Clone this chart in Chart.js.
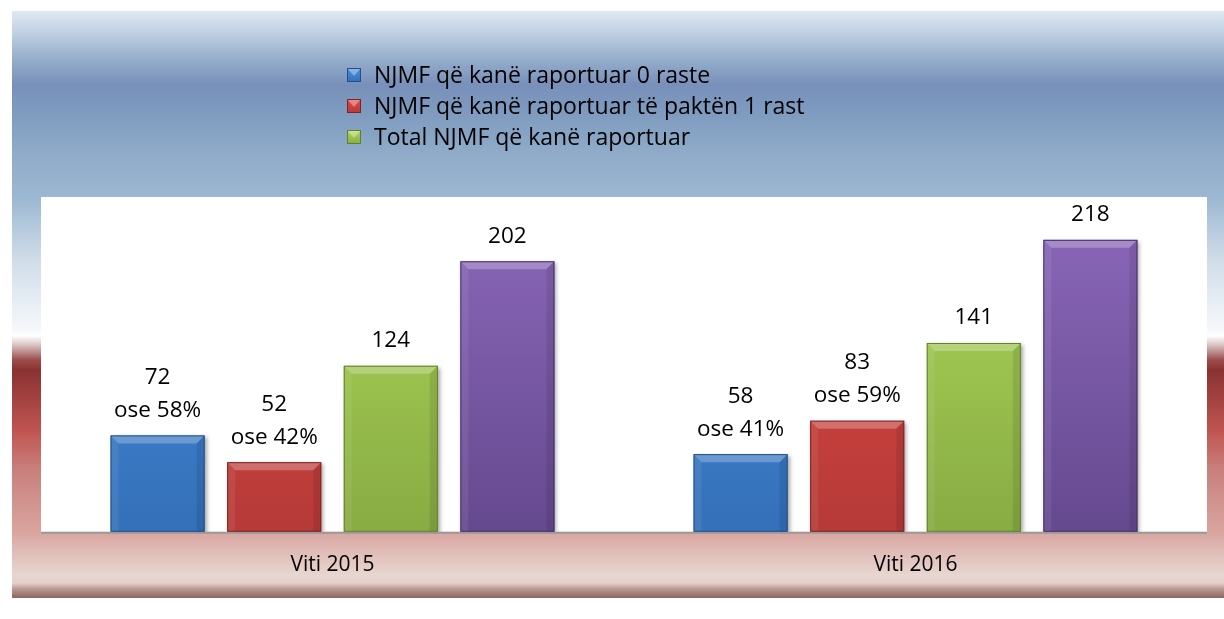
<!DOCTYPE html>
<html>
<head>
<meta charset="utf-8">
<script src="https://cdn.jsdelivr.net/npm/chart.js@4.4.1/dist/chart.umd.min.js"></script>
<style>
  html, body { margin: 0; padding: 0; background: #fff; }
  #wrap { width: 1224px; height: 619px; position: relative; }
</style>
</head>
<body>
<div id="wrap"><canvas id="njmfChart"></canvas></div>
<script>
// Të dhënat
const categories = ['Viti 2015', 'Viti 2016'];
const zeroCases = [72, 58];
const atLeastOne = [52, 83];
const totalReported = [124, 141];
const allUnits = [202, 218];
const zeroPct = ['58%', '41%'];
const oneplusPct = ['42%', '59%'];
const seriesNames = [
  'NJMF që kanë raportuar 0 raste',
  'NJMF që kanë raportuar të paktën 1 rast',
  'Total NJMF që kanë raportuar',
  'Gjithsej NJMF'
];

const FONT = "'Open Sans', sans-serif";

// ngjyrat: [lart, poshtë, buzë e errët]
const palette = [
  ['#4a8ede', '#3470b9', '#234e86'],
  ['#e04a45', '#b63a38', '#7e2424'],
  ['#afd95a', '#88ab43', '#62802c'],
  ['#8d69bc', '#65498f', '#463267']
];

function barGradient(idx) {
  return (ctx) => {
    const area = ctx.chart.chartArea;
    if (!area) return palette[idx][0];
    const g = ctx.chart.ctx.createLinearGradient(0, area.top, 0, area.bottom);
    g.addColorStop(0, palette[idx][0]);
    g.addColorStop(1, palette[idx][1]);
    return g;
  };
}

// sfondi me gradient (blu lart, e kuqe poshtë)
const bgPlugin = {
  id: 'bgPlugin',
  beforeDraw(chart) {
    const c = chart.ctx;
    const top = 11, bottom = 598, h = bottom - top;
    const stop = (y) => (y - top) / h;
    const g = c.createLinearGradient(0, top, 0, bottom);
    [
      [11, '#dfe9f3'], [30, '#c3d4e4'], [60, '#94adca'], [85, '#7890ba'],
      [115, '#7f9cc0'], [150, '#8eaac8'], [197, '#9bb7d1'], [260, '#d0dde9'],
      [330, '#f6f8fb'], [336, '#ffffff'], [345, '#d9c2c2'], [360, '#9c4c4c'],
      [370, '#8a3232'], [430, '#bf5450'], [470, '#c9807c'], [531, '#d9a49f'],
      [575, '#e8d6d0'], [583, '#e5d0ca'], [589, '#b79993'], [598, '#8d655f']
    ].forEach(([y, col]) => g.addColorStop(stop(y), col));
    c.save();
    c.fillStyle = g;
    c.fillRect(12, top, chart.width - 12, h);
    const a = chart.chartArea;
    c.fillStyle = '#ffffff';
    c.fillRect(a.left, a.top, a.right - a.left, a.bottom - a.top);
    c.fillStyle = '#9a9a9a';
    c.fillRect(a.left, a.bottom, a.right - a.left, 2);
    c.restore();
  }
};

// hije e butë poshtë shtyllave
const shadowPlugin = {
  id: 'shadowPlugin',
  beforeDatasetsDraw(chart) {
    const c = chart.ctx;
    c.save();
    c.shadowColor = 'rgba(0,0,0,0.35)';
    c.shadowBlur = 4;
    c.shadowOffsetX = 2;
    c.shadowOffsetY = 2;
  },
  afterDatasetsDraw(chart) {
    chart.ctx.restore();
  }
};

// efekti i pjerrët (bevel) mbi çdo shtyllë
const bevelPlugin = {
  id: 'bevelPlugin',
  afterDatasetsDraw(chart) {
    const c = chart.ctx;
    c.save();
    chart.data.datasets.forEach((ds, di) => {
      const meta = chart.getDatasetMeta(di);
      meta.data.forEach((bar) => {
        const l = bar.x - bar.width / 2, r = bar.x + bar.width / 2;
        const t = bar.y, b = bar.base, bev = 8;
        // pjesa e sipërme më e çelur
        c.fillStyle = 'rgba(255,255,255,0.25)';
        c.beginPath();
        c.moveTo(l, t); c.lineTo(r, t); c.lineTo(r - bev, t + bev); c.lineTo(l + bev, t + bev);
        c.closePath(); c.fill();
        // ana e majtë
        c.fillStyle = 'rgba(255,255,255,0.07)';
        c.beginPath();
        c.moveTo(l, t); c.lineTo(l + bev, t + bev); c.lineTo(l + bev, b); c.lineTo(l, b);
        c.closePath(); c.fill();
        // ana e djathtë më e errët
        c.fillStyle = 'rgba(0,0,0,0.09)';
        c.beginPath();
        c.moveTo(r, t); c.lineTo(r - bev, t + bev); c.lineTo(r - bev, b); c.lineTo(r, b);
        c.closePath(); c.fill();
        c.strokeStyle = palette[di][2];
        c.lineWidth = 1;
        c.strokeRect(l + 0.5, t + 0.5, bar.width - 1, b - t - 1);
      });
    });
    c.restore();
  }
};

const labelPlugin = {
  id: 'labelPlugin',
  afterDatasetsDraw(chart) {
    const c = chart.ctx;
    c.save();
    c.font = '22.5px ' + FONT;
    c.fillStyle = '#000';
    c.textAlign = 'center';
    c.textBaseline = 'middle';
    chart.data.datasets.forEach((ds, di) => {
      const meta = chart.getDatasetMeta(di);
      meta.data.forEach((bar, i) => {
        const lines = [String(ds.data[i])];
        if (di === 0) lines.push('ose ' + zeroPct[i]);
        if (di === 1) lines.push('ose ' + oneplusPct[i]);
        let y = bar.y - 25;
        for (let k = lines.length - 1; k >= 0; k--) {
          c.fillText(lines[k], bar.x, y);
          y -= 33;
        }
      });
    });
    c.restore();
  }
};

// legjenda në listë vertikale
const legendPlugin = {
  id: 'legendPlugin',
  afterDraw(chart) {
    const c = chart.ctx;
    c.save();
    c.font = '23px ' + FONT;
    c.textBaseline = 'middle';
    chart.data.datasets.slice(0, 3).forEach((ds, i) => {
      const y = 75 + i * 31;
      const bx = 347, s = 14;
      const g = c.createLinearGradient(0, y - s / 2, 0, y + s / 2);
      g.addColorStop(0, palette[i][0]);
      g.addColorStop(1, palette[i][1]);
      c.fillStyle = g;
      c.fillRect(bx, y - s / 2, s, s);
      c.fillStyle = 'rgba(255,255,255,0.35)';
      c.beginPath();
      c.moveTo(bx, y - s / 2); c.lineTo(bx + s, y - s / 2); c.lineTo(bx + s / 2, y + 1);
      c.closePath(); c.fill();
      c.strokeStyle = palette[i][2];
      c.strokeRect(bx + 0.5, y - s / 2 + 0.5, s - 1, s - 1);
      c.fillStyle = '#000';
      c.fillText(ds.label, 374, y + 1);
    });
    c.restore();
  }
};

const ctx = document.getElementById('njmfChart').getContext('2d');
const chart = new Chart(ctx, {
  type: 'bar',
  data: {
    labels: categories,
    datasets: [zeroCases, atLeastOne, totalReported, allUnits].map((vals, i) => ({
      label: seriesNames[i],
      data: vals,
      backgroundColor: barGradient(i),
      borderWidth: 0,
      barPercentage: 0.807,
      categoryPercentage: 0.8
    }))
  },
  options: {
    responsive: true,
    maintainAspectRatio: false,
    animation: false,
    layout: { padding: { left: 41, right: 17, top: 197, bottom: 20 } },
    plugins: {
      legend: { display: false },
      tooltip: { enabled: false }
    },
    scales: {
      y: { display: false, min: 0, max: 250 },
      x: {
        grid: { display: false, drawTicks: false },
        border: { display: false },
        ticks: { color: '#000', font: { family: FONT, size: 21 }, padding: 21 }
      }
    }
  },
  plugins: [bgPlugin, shadowPlugin, bevelPlugin, labelPlugin, legendPlugin]
});
</script>
</body>
</html>
